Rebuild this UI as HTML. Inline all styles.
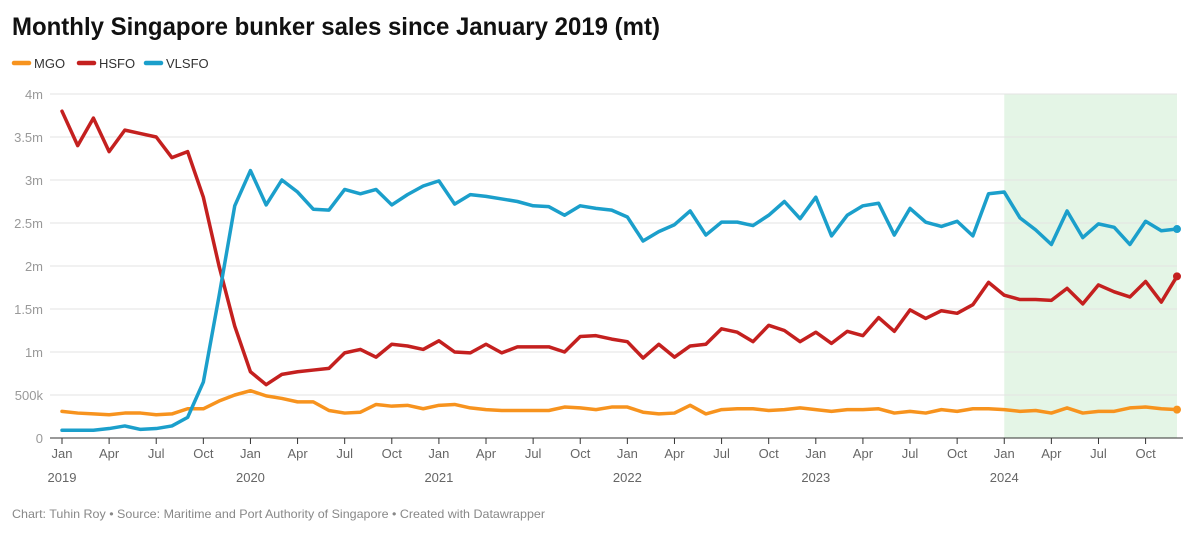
<!DOCTYPE html>
<html><head><meta charset="utf-8"><style>
body{margin:0;background:#fff;}
svg{display:block;font-family:"Liberation Sans",sans-serif;}
</style></head><body>
<svg id="c" width="1200" height="534">
<text x="12" y="35" font-size="25" font-weight="bold" fill="#111" textLength="648" lengthAdjust="spacingAndGlyphs">Monthly Singapore bunker sales since January 2019 (mt)</text>
<g font-size="13" fill="#333">
<g><line x1="14" y1="63" x2="29" y2="63" stroke="#f7931e" stroke-width="4.5" stroke-linecap="round"/><text x="34" y="68">MGO</text></g>
<g><line x1="79" y1="63" x2="94" y2="63" stroke="#c4201f" stroke-width="4.5" stroke-linecap="round"/><text x="99" y="68">HSFO</text></g>
<g><line x1="146" y1="63" x2="161" y2="63" stroke="#1b9fcb" stroke-width="4.5" stroke-linecap="round"/><text x="166" y="68">VLSFO</text></g>
</g>
<g id="plot"></g>
<text x="12" y="518" font-size="12" fill="#888" textLength="533" lengthAdjust="spacingAndGlyphs">Chart: Tuhin Roy • Source: Maritime and Port Authority of Singapore • Created with Datawrapper</text>
</svg>
<script>
const yTicks=[0,0.5,1,1.5,2,2.5,3,3.5,4];
const yTickLabels=["0","500k","1m","1.5m","2m","2.5m","3m","3.5m","4m"];
const monthLabels=["Jan","Apr","Jul","Oct"];
const years=["2019","2020","2021","2022","2023","2024"];
const highlightStart=60, highlightEnd=71;
const hsfo=[3.8,3.4,3.72,3.33,3.58,3.54,3.5,3.26,3.33,2.8,2.0,1.3,
0.77,0.62,0.74,0.77,0.79,0.81,0.99,1.03,0.94,1.09,1.07,1.03,
1.13,1.0,0.99,1.09,0.99,1.06,1.06,1.06,1.0,1.18,1.19,1.15,
1.12,0.93,1.09,0.94,1.07,1.09,1.27,1.23,1.12,1.31,1.25,1.12,
1.23,1.1,1.24,1.19,1.4,1.24,1.49,1.39,1.48,1.45,1.55,1.81,
1.66,1.61,1.61,1.6,1.74,1.56,1.78,1.7,1.64,1.82,1.58,1.88];
const vlsfo=[0.09,0.09,0.09,0.11,0.14,0.1,0.11,0.14,0.24,0.65,1.65,2.7,
3.11,2.71,3.0,2.86,2.66,2.65,2.89,2.84,2.89,2.71,2.83,2.93,
2.99,2.72,2.83,2.81,2.78,2.75,2.7,2.69,2.59,2.7,2.67,2.65,
2.57,2.29,2.4,2.48,2.64,2.36,2.51,2.51,2.47,2.59,2.75,2.55,
2.8,2.35,2.59,2.7,2.73,2.36,2.67,2.51,2.46,2.52,2.35,2.84,
2.86,2.56,2.42,2.25,2.64,2.33,2.49,2.45,2.25,2.52,2.41,2.43];
const mgo=[0.31,0.29,0.28,0.27,0.29,0.29,0.27,0.28,0.34,0.34,0.43,0.5,
0.55,0.49,0.46,0.42,0.42,0.32,0.29,0.3,0.39,0.37,0.38,0.34,
0.38,0.39,0.35,0.33,0.32,0.32,0.32,0.32,0.36,0.35,0.33,0.36,
0.36,0.3,0.28,0.29,0.38,0.28,0.33,0.34,0.34,0.32,0.33,0.35,
0.33,0.31,0.33,0.33,0.34,0.29,0.31,0.29,0.33,0.31,0.34,0.34,
0.33,0.31,0.32,0.29,0.35,0.29,0.31,0.31,0.35,0.36,0.34,0.33];
const NS="http://www.w3.org/2000/svg";
const plot=document.getElementById('plot');
const X=i=>62+i*(1177-62)/71;
const Y=v=>438-v*86;
function mk(t,a,p){const e=document.createElementNS(NS,t);for(const k in a)e.setAttribute(k,a[k]);(p||plot).appendChild(e);return e;}
const hl=mk('rect',{x:X(highlightStart),y:Y(4),width:X(highlightEnd)-X(highlightStart),height:Y(0)-Y(4),fill:'#e4f5e6'});


yTicks.forEach((v,i)=>{
 if(v>0){const g=mk('line',{x1:50,x2:1177,y1:Y(v),y2:Y(v),stroke:'#e3e3e3','stroke-width':1});
 
 }
 const t=mk('text',{x:43,y:Y(v)+5,'text-anchor':'end','font-size':13,fill:'#999'});
 t.textContent=yTickLabels[i];
 
 
});
const ax=mk('line',{x1:50,x2:1183,y1:438,y2:438,stroke:'#333','stroke-width':1});


for(let i=0;i<72;i+=3){
 const tk=mk('line',{x1:X(i),x2:X(i),y1:438,y2:444,stroke:'#333'});
 
 
 const t=mk('text',{x:X(i),y:458,'text-anchor':'middle','font-size':13,fill:'#666'});
 t.textContent=monthLabels[(i/3)%4];
 
 
 if(i%12===0){const y=mk('text',{x:X(i),y:482,'text-anchor':'middle','font-size':13,fill:'#666'});
 y.textContent=years[i/12];
 
 }
}
function series(arr,col,name){
 const p=mk('polyline',{points:arr.map((v,i)=>X(i)+','+Y(v)).join(' '),fill:'none',stroke:col,'stroke-width':3.5,'stroke-linejoin':'round','stroke-linecap':'round'});
 
 
 const d=mk('circle',{cx:X(arr.length-1),cy:Y(arr[arr.length-1]),r:4,fill:col});
 
 
}
series(mgo,'#f7931e','mgo');
series(hsfo,'#c4201f','hsfo');
series(vlsfo,'#1b9fcb','vlsfo');
</script>
</body></html>
